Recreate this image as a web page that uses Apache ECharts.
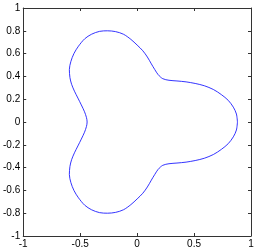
<!DOCTYPE html>
<html>
<head>
<meta charset="utf-8">
<script src="https://cdn.jsdelivr.net/npm/echarts@6/dist/echarts.min.js"></script>
<style>html,body{margin:0;padding:0;background:#fff;}#c{width:257px;height:249px;}</style>
</head>
<body>
<div id="c"></div>
<script>
var xTicks = [-1, -0.5, 0, 0.5, 1];
var yTicks = [-1, -0.8, -0.6, -0.4, -0.2, 0, 0.2, 0.4, 0.6, 0.8, 1];
var curveX = [0.881, 0.872, 0.845, 0.800, 0.740, 0.670, 0.590, 0.510, 0.430, 0.350, 0.280, 0.225, 0.185, 0.155, 0.125, 0.090, 0.050, 0.000, -0.055, -0.120, -0.190, -0.260, -0.330, -0.400, -0.460, -0.515, -0.555, -0.582, -0.595, -0.590, -0.575, -0.550, -0.520, -0.490, -0.462, -0.445, -0.439,
              -0.445, -0.462, -0.490, -0.520, -0.550, -0.575, -0.590, -0.595, -0.582, -0.555, -0.515, -0.460, -0.400, -0.330, -0.260, -0.190, -0.120, -0.055, 0.000, 0.050, 0.090, 0.125, 0.155, 0.185, 0.225, 0.280, 0.350, 0.430, 0.510, 0.590, 0.670, 0.740, 0.800, 0.845, 0.872, 0.881];
var curveY = [0, 0.070, 0.130, 0.190, 0.240, 0.285, 0.318, 0.338, 0.352, 0.360, 0.366, 0.380, 0.415, 0.460, 0.510, 0.570, 0.625, 0.675, 0.725, 0.770, 0.793, 0.800, 0.795, 0.770, 0.730, 0.665, 0.600, 0.530, 0.460, 0.390, 0.330, 0.270, 0.210, 0.150, 0.090, 0.040, 0,
              -0.040, -0.090, -0.150, -0.210, -0.270, -0.330, -0.390, -0.460, -0.530, -0.600, -0.665, -0.730, -0.770, -0.795, -0.800, -0.793, -0.770, -0.725, -0.675, -0.625, -0.570, -0.510, -0.460, -0.415, -0.380, -0.366, -0.360, -0.352, -0.338, -0.318, -0.285, -0.240, -0.190, -0.130, -0.070, 0];

var data = curveX.map(function (x, i) { return [x, curveY[i]]; });
var axisCol = '#333';
var font = { color: '#000', fontSize: 10, fontFamily: 'Liberation Sans, Arial, sans-serif' };
function baseAxis(ticks, pos, showLabel) {
  return {
    type: 'value', position: pos,
    min: ticks[0], max: ticks[ticks.length - 1],
    interval: ticks[1] - ticks[0],
    axisLine: { show: true, onZero: false, lineStyle: { color: axisCol, width: 1 } },
    axisTick: { show: true, inside: true, length: 3, lineStyle: { color: axisCol } },
    axisLabel: Object.assign({ show: showLabel, margin: 3, formatter: function (v) { return String(Math.round(v * 10) / 10); } }, font),
    splitLine: { show: false }
  };
}
var chart = echarts.init(document.getElementById('c'));
chart.setOption({
  animation: false,
  grid: { left: 23, right: 6, top: 8, bottom: 12, containLabel: false },
  xAxis: [baseAxis(xTicks, 'bottom', true), baseAxis(xTicks, 'top', false)],
  yAxis: [baseAxis(yTicks, 'left', true), baseAxis(yTicks, 'right', false)],
  series: [{
    type: 'line', xAxisIndex: 0, yAxisIndex: 0,
    data: data, smooth: 0.3, showSymbol: false, symbol: 'none',
    lineStyle: { color: '#0000ff', width: 0.8 }
  }]
});
</script>
</body>
</html>
